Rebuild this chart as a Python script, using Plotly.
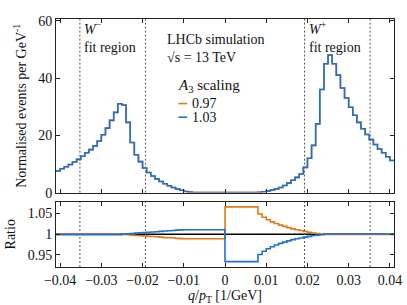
import numpy as np
import plotly.graph_objects as go

# ---------------- data ----------------
bin_lo, bin_hi, n_bins = -0.041, 0.041, 82

events = [
    7.6, 8.3, 9.0, 9.8, 10.7, 11.6, 12.7, 13.9, 15.0, 16.3, 18.0, 20.2, 22.5, 25.2, 28.0, 31.0,
    30.6, 24.5, 17.5, 13.2, 10.8, 8.6, 7.0, 5.8, 4.8, 3.9, 3.1, 2.4, 1.8, 1.3, 0.8, 0.4, 0.15,
    0, 0, 0, 0, 0, 0, 0, 0,
    0, 0, 0, 0, 0, 0, 0, 0,
    0.1, 0.3, 0.6, 0.9, 1.3, 1.8, 2.5, 3.3, 4.3, 5.3, 6.5, 8.8, 12.0, 16.5, 24.0, 36.0,
    45.0, 48.0, 45.0, 41.0, 36.5, 33.0, 29.8, 27.0, 24.5, 22.3, 20.3, 18.5, 16.8, 15.2, 13.9, 12.5, 11.2,
]

ratio_097 = (
    [1.0008] * 16
    + [0.9995, 0.999, 0.998, 0.997, 0.9965, 0.996, 0.995, 0.9945, 0.994, 0.993, 0.992, 0.9915,
       0.991, 0.990, 0.9895, 0.989]
    + [0.989] * 9
    + [1.066] * 8
    + [1.049, 1.041, 1.035, 1.030, 1.026, 1.022, 1.019, 1.016, 1.013, 1.011, 1.009, 1.007,
       1.005, 1.003, 1.002, 1.001]
    + [0.9995] * 17
)
ratio_103 = (
    [0.9992] * 16
    + [1.0005, 1.001, 1.002, 1.003, 1.0035, 1.004, 1.005, 1.0055, 1.006, 1.007, 1.008, 1.0085,
       1.009, 1.010, 1.0105, 1.011]
    + [1.011] * 9
    + [0.934] * 8
    + [0.951, 0.959, 0.965, 0.970, 0.974, 0.978, 0.981, 0.984, 0.987, 0.989, 0.991, 0.993,
       0.995, 0.997, 0.998, 0.999]
    + [1.0005] * 17
)

fit_bounds = [-0.0352, -0.0193, 0.0193, 0.0352]
x_ticks = [-0.04, -0.03, -0.02, -0.01, 0, 0.01, 0.02, 0.03, 0.04]
x_ticktext = ["−0.04", "−0.03", "−0.02", "−0.01", "0", "0.01", "0.02", "0.03", "0.04"]
y_ticks = [0, 20, 40, 60]
r_ticks = [0.95, 1.0, 1.05]
r_ticktext = ["0.95", "1", "1.05"]
series_names = ["0.97", "1.03"]

# ---------------- style ----------------
ORANGE = "#E07A12"
BLUE = "#1F6FD8"
FONT = "Liberation Serif"
edges = np.linspace(bin_lo, bin_hi, n_bins + 1)


def steps(vals):
    return list(vals) + [vals[-1]]


fig = go.Figure()
for vals, col, name in [(events, ORANGE, series_names[0]), (events, BLUE, series_names[1])]:
    fig.add_trace(go.Scatter(x=edges, y=steps(vals), mode="lines", line=dict(color=col, width=1.6, shape="hv"),
                             xaxis="x", yaxis="y", showlegend=False, name=name))
for vals, col, name in [(ratio_097, ORANGE, series_names[0]), (ratio_103, BLUE, series_names[1])]:
    fig.add_trace(go.Scatter(x=edges, y=steps(vals), mode="lines", line=dict(color=col, width=1.6, shape="hv"),
                             xaxis="x2", yaxis="y2", showlegend=False, name=name))

axis_common = dict(showline=True, linecolor="#222", linewidth=1, mirror="ticks", ticks="inside",
                   ticklen=4, tickcolor="#222", showgrid=False, zeroline=False, automargin=False,
                   tickfont=dict(family=FONT, size=14, color="#111"))

fig.update_layout(
    width=407, height=305,
    margin=dict(l=56, r=13, t=19, b=38),
    paper_bgcolor="white", plot_bgcolor="white",
    font=dict(family=FONT, size=14, color="#111"),
    xaxis=dict(domain=[0, 1], anchor="y", range=[bin_lo, bin_hi], tickvals=x_ticks,
               showticklabels=False, **axis_common),
    yaxis=dict(domain=[0.30, 1], anchor="x", range=[0, 60.6], tickvals=y_ticks,
               title=dict(text="Normalised events per GeV<sup>-1</sup>", standoff=8,
                          font=dict(family=FONT, size=14)), **axis_common),
    xaxis2=dict(domain=[0, 1], anchor="y2", range=[bin_lo, bin_hi], tickvals=x_ticks, ticktext=x_ticktext,
                title=dict(text="<i>q</i>/<i>p</i><sub>T</sub> [1/GeV]", standoff=4,
                           font=dict(family=FONT, size=14)), **axis_common),
    yaxis2=dict(domain=[0, 0.264], anchor="x2", range=[0.921, 1.079], tickvals=r_ticks, ticktext=r_ticktext,
                title=dict(text="Ratio", standoff=8, font=dict(family=FONT, size=14)), **axis_common),
)

# reference line at ratio 1
fig.add_shape(type="line", xref="x2 domain", yref="y2", x0=0, x1=1, y0=1, y1=1,
              line=dict(color="black", width=1.3), layer="below")

# fit region boundaries
for xb in fit_bounds:
    for yr in ["y domain", "y2 domain"]:
        fig.add_shape(type="line", xref="x", yref=yr, x0=xb, x1=xb, y0=0, y1=1,
                      line=dict(color="#555", width=1, dash="2px,2px"), layer="below")

# text annotations
fig.add_annotation(xref="x", yref="paper", x=fit_bounds[0], y=1.0, xshift=2, yshift=2,
                   text="<i>W</i><sup>−</sup><br>fit region", showarrow=False, xanchor="left", yanchor="top",
                   align="left", font=dict(family=FONT, size=14))
fig.add_annotation(xref="x", yref="paper", x=fit_bounds[2], y=1.0, xshift=2, yshift=2,
                   text="<i>W</i><sup>+</sup><br>fit region", showarrow=False, xanchor="left", yanchor="top",
                   align="left", font=dict(family=FONT, size=14))
fig.add_annotation(xref="x", yref="paper", x=-0.0145, y=0.95, yshift=1, text="LHCb simulation<br>√s = 13 TeV",
                   showarrow=False, xanchor="left", yanchor="top", align="left", font=dict(family=FONT, size=14))
fig.add_annotation(xref="x", yref="paper", x=-0.012, y=0.730, text="<i>A</i><sub>3</sub> scaling",
                   showarrow=False, xanchor="left", yanchor="middle", align="left", font=dict(family=FONT, size=15))
leg_y = [0.659, 0.604]
for name, col, yy in zip(series_names, [ORANGE, BLUE], leg_y):
    fig.add_annotation(xref="x", yref="paper", x=-0.0091, y=yy, xshift=3, text=name, showarrow=False,
                       xanchor="left", yanchor="middle", font=dict(family=FONT, size=14))
    fig.add_shape(type="line", xref="x", yref="paper", x0=-0.0113, x1=-0.0092, y0=yy, y1=yy,
                  line=dict(color=col, width=1.6))

fig.write_html("out.html", config={"displayModeBar": False},
               post_script="document.body.style.margin='0';document.body.style.overflow='hidden';")
